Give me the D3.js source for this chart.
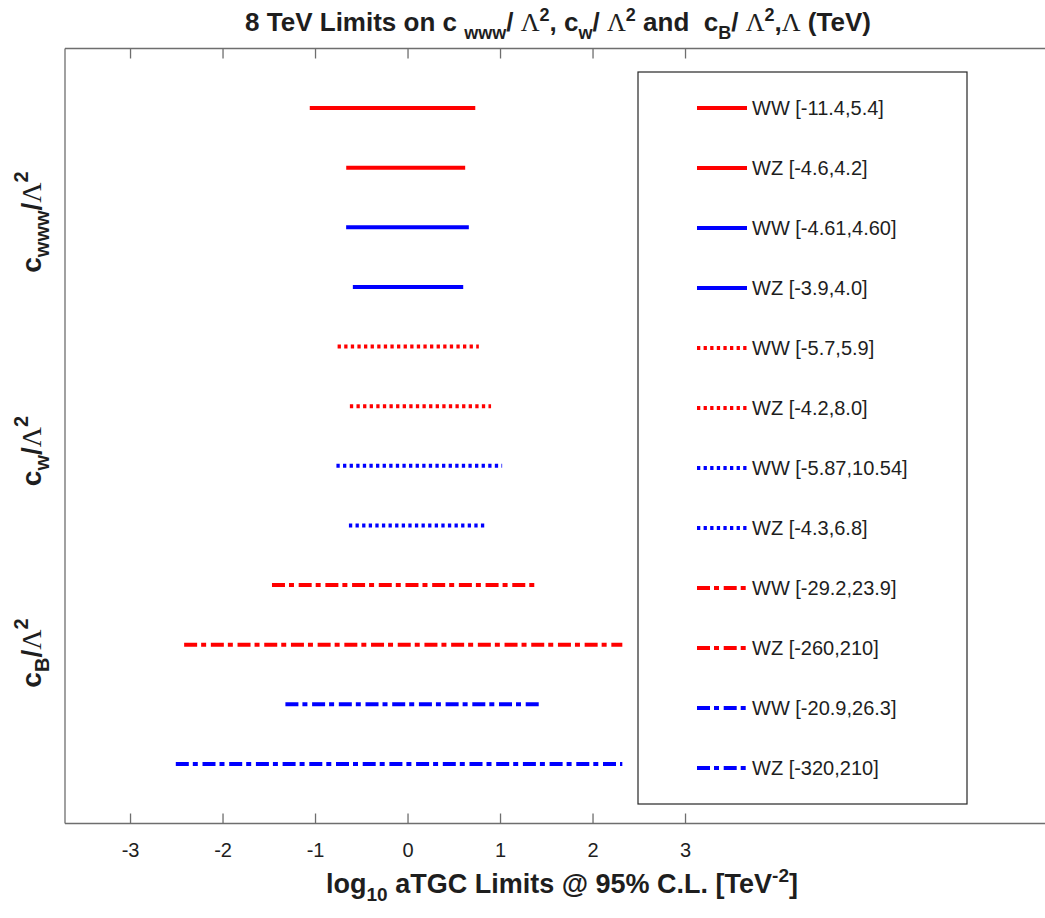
<!DOCTYPE html>
<html><head><meta charset="utf-8">
<script src="https://cdn.jsdelivr.net/npm/d3@7"></script>
<style>body{margin:0;background:#fff}svg{display:block}text{font-family:"Liberation Sans",Arial,sans-serif}</style>
</head><body><svg id="c" width="1045" height="918"></svg>
<script>
// ---- data ----
const operators = ["cwww","cwww","cwww","cwww","cw","cw","cw","cw","cB","cB","cB","cB"];
const groups    = ["A","A","B","B","A","A","B","B","A","A","B","B"];
const channels  = ["WW","WZ","WW","WZ","WW","WZ","WW","WZ","WW","WZ","WW","WZ"];
const lows      = [-11.4,-4.6,-4.61,-3.9,-5.7,-4.2,-5.87,-4.3,-29.2,-260,-20.9,-320];
const highs     = [5.4,4.2,4.60,4.0,5.9,8.0,10.54,6.8,23.9,210,26.3,210];
const legendLabels = ["WW [-11.4,5.4]","WZ [-4.6,4.2]","WW [-4.61,4.60]","WZ [-3.9,4.0]",
  "WW [-5.7,5.9]","WZ [-4.2,8.0]","WW [-5.87,10.54]","WZ [-4.3,6.8]",
  "WW [-29.2,23.9]","WZ [-260,210]","WW [-20.9,26.3]","WZ [-320,210]"];
const xTicks = [-3,-2,-1,0,1,2,3];

// ---- layout ----
const L=65, R=1059, T=48.5, B=823.5;
const svg = d3.select("#c");
const x = d3.scaleLinear().domain([-3.703, 7.043]).range([L, R]);
const y = d3.scaleLinear().domain([0, 13]).range([T, B]);
const color = d3.scaleOrdinal().domain(["A","B"]).range(["#ff0000","#0000ff"]);
const dash = d3.scaleOrdinal().domain(["cwww","cw","cB"]).range([null,"3.3,3.3","13,4,5,4.7"]);
const axisCol = "#6e6e6e", txtCol = "#1e1e1e";

const data = lows.map((lo,i)=>({i, lo, hi:highs[i], op:operators[i], g:groups[i], label:legendLabels[i]}));

// frame
svg.append("line").attr("x1",L).attr("x2",L).attr("y1",T).attr("y2",B).attr("stroke",axisCol).attr("stroke-width",1.3);
svg.append("line").attr("x1",L).attr("x2",R).attr("y1",T).attr("y2",T).attr("stroke",axisCol).attr("stroke-width",1.3);

const xb = svg.append("g").attr("transform",`translate(0,${B})`)
  .call(d3.axisBottom(x).tickValues(xTicks).tickSizeInner(-10).tickSizeOuter(0).tickPadding(19).tickFormat(d3.format("d")));
xb.select(".domain").remove();
xb.append("line").attr("x1",L).attr("x2",R).attr("stroke",axisCol).attr("stroke-width",1.3);
xb.selectAll(".tick line").attr("stroke",axisCol).attr("stroke-width",1.3);
xb.selectAll(".tick text").attr("fill",txtCol).style("font-size","20px").style("font-family","Liberation Sans, Arial").text(d=>d<0?"-"+Math.abs(d):d);

const xt = svg.append("g").attr("transform",`translate(0,${T})`)
  .call(d3.axisTop(x).tickValues(xTicks).tickSizeInner(-10).tickSizeOuter(0).tickFormat(""));
xt.select(".domain").remove();
xt.selectAll(".tick line").attr("stroke",axisCol).attr("stroke-width",1.3);

// segments
svg.append("g").selectAll("line").data(data).join("line")
  .attr("x1",d=>x(-Math.log10(-d.lo))).attr("x2",d=>x(Math.log10(d.hi)))
  .attr("y1",d=>y(d.i+1)).attr("y2",d=>y(d.i+1))
  .attr("stroke",d=>color(d.g)).attr("stroke-width",4)
  .attr("stroke-dasharray",d=>dash(d.op));

// legend
const lg = svg.append("g");
lg.append("rect").attr("x",638).attr("y",72).attr("width",329).attr("height",732)
  .attr("fill","#fff").attr("stroke","#262626").attr("stroke-width",1.2);
const li = lg.selectAll("g.it").data(data).join("g").attr("class","it")
  .attr("transform",d=>`translate(0,${108+60*d.i})`);
li.append("line").attr("x1",697).attr("x2",747).attr("stroke",d=>color(d.g)).attr("stroke-width",4)
  .attr("stroke-dasharray",d=>dash(d.op));
li.append("text").attr("x",752).attr("dy","0.36em").attr("fill",txtCol).style("font-size","20px").text(d=>d.label);

// title
const title = svg.append("text").attr("x",558).attr("y",31).attr("text-anchor","middle")
  .attr("fill",txtCol).style("font-size","26px").style("font-weight","bold");
function rich(sel, parts){
  parts.forEach(p=>{
    const t = sel.append("tspan").text(p.t);
    if(p.dy) t.attr("dy",p.dy);
    if(p.fs) t.style("font-size",p.fs);
    if(p.serif) t.style("font-family","Liberation Serif, Times New Roman, serif").style("font-weight","normal");
  });
}
const sub = 8, sup = -10;
rich(title,[
  {t:"8 TeV Limits on c "},{t:"www",fs:"18px",dy:sub},{t:"/ ",dy:-sub},{t:"Λ",serif:1},{t:"2",fs:"18px",dy:sup},
  {t:", c",dy:-sup},{t:"w",fs:"18px",dy:sub},{t:"/ ",dy:-sub},{t:"Λ",serif:1},{t:"2",fs:"18px",dy:sup},
  {t:" and  c",dy:-sup},{t:"B",fs:"18px",dy:sub},{t:"/ ",dy:-sub},{t:"Λ",serif:1},{t:"2",fs:"18px",dy:sup},
  {t:",",dy:-sup},{t:"Λ",serif:1},{t:" (TeV)"}
]);
title.selectAll("tspan").filter(function(){return this.textContent==="8 TeV Limits on c "||this.textContent===" and  c";}).attr("xml:space","preserve");
title.attr("xml:space","preserve");

// y labels
const yLabs = [{n:"www",cy:222},{n:"w",cy:451},{n:"B",cy:653}];
yLabs.forEach(l=>{
  const t = svg.append("text").attr("transform",`translate(41,${l.cy}) rotate(-90)`).attr("text-anchor","middle")
    .attr("fill",txtCol).style("font-size","28px").style("font-weight","bold");
  rich(t,[{t:"c"},{t:l.n,fs:"20px",dy:8},{t:"/",dy:-8},{t:"Λ",serif:1},{t:"2",fs:"20px",dy:-13}]);
});

// x label
const xl = svg.append("text").attr("x",562).attr("y",893).attr("text-anchor","middle")
  .attr("fill",txtCol).style("font-size","27px").style("font-weight","bold");
rich(xl,[{t:"log"},{t:"10",fs:"19px",dy:8},{t:" aTGC Limits @ 95% C.L. [TeV",dy:-8},{t:"-2",fs:"19px",dy:-11},{t:"]",dy:11}]);
</script></body></html>
